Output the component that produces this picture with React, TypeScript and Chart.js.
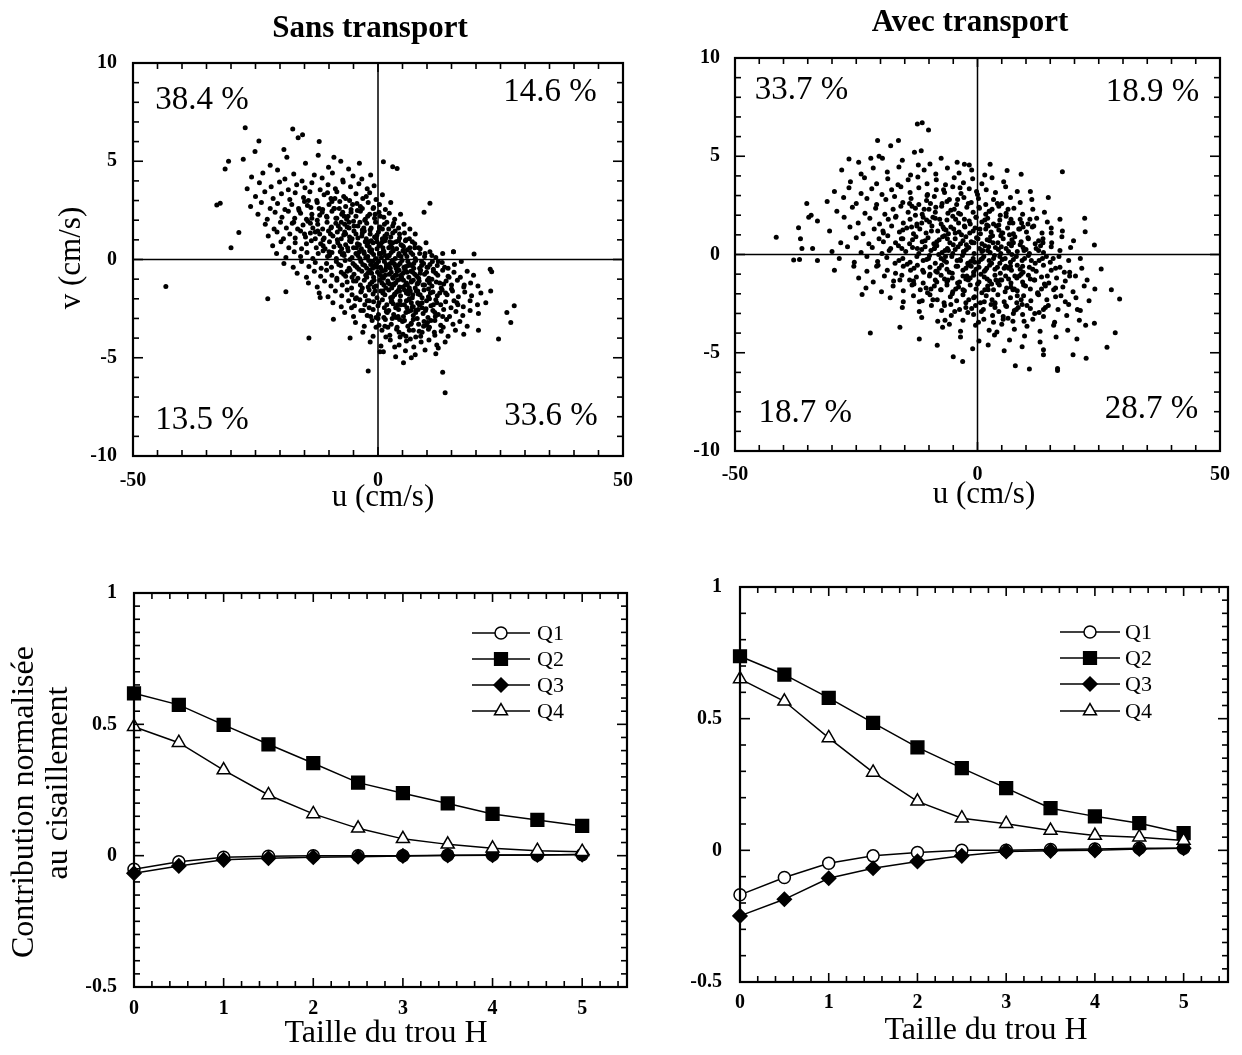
import React, { useEffect, useRef } from "react";
import { Chart, registerables } from "chart.js";

Chart.register(...registerables);

const FONT = "'Liberation Serif', 'Times New Roman', serif";

// ---------- Top scatter data: (u, v) in cm/s ----------
const sansPoints: number[][] = [
  // outliers
  [-27.1,6.7],[-17.4,6.64],[-16.3,6.2],[-15.4,6.35],[-12.0,6.0],[-24.3,6.03],[-19.2,5.6],[-25.1,5.49],
  [-30.5,5.0],[-31.2,4.6],[-32.2,2.86],[-32.9,2.77],[-30.0,0.6],[-28.4,1.38],[-43.3,-1.38],[-22.5,-2.0],
  [-18.8,-1.64],[-14.1,-4.0],[-11.8,-1.94],[-2.0,-5.67],[5.2,-5.25],[13.2,-5.74],[13.7,-6.78],[24.6,-4.05],
  [27.8,-2.35],[26.3,-2.7],[27.1,-3.2],[1.1,4.98],[3.0,4.72],[3.9,4.63],[10.6,2.86],[9.4,2.4],
  [19.6,0.28],[15.4,0.4],[22.9,-0.5],[23.2,-0.62],[23.0,-1.6],[20.5,-3.6],[12.3,-4.5],[0.4,-4.7],
  [-5.7,-4.0],[-9.1,-3.04],
  // v 4.5..5.5
  [-27.5,5.1],[-22.0,4.8],[-18.6,5.2],[-14.8,4.9],[-12.2,5.3],[-10.1,4.7],[-7.6,5.0],[-6.0,4.6],[-3.8,4.9],[-20.5,4.55],[-9.0,5.2],
  // v 4.0..4.5
  [-25.8,4.2],[-23.5,4.4],[-19.0,4.1],[-17.2,4.35],[-15.5,4.0],[-13.0,4.3],[-11.4,4.15],[-9.3,4.4],[-7.2,4.05],[-5.1,4.25],[-3.3,4.1],[-1.5,4.3],
  // v 3.5..4.0
  [-26.7,3.6],[-24.2,3.9],[-21.8,3.7],[-20.1,3.95],[-18.3,3.55],[-16.6,3.8],[-14.9,3.65],[-13.5,3.9],[-11.8,3.55],[-10.2,3.8],[-8.7,3.6],[-7.1,3.95],[-5.6,3.7],[-3.9,3.85],[-2.2,3.6],[-0.8,3.75],
  // v 3.0..3.5
  [-25.0,3.2],[-23.1,3.45],[-21.4,3.1],[-19.7,3.35],[-18.0,3.05],[-16.9,3.4],[-15.2,3.15],[-13.9,3.45],[-12.5,3.0],[-11.0,3.3],[-9.6,3.1],[-8.4,3.45],[-7.0,3.2],[-5.8,3.0],[-4.5,3.35],[-3.1,3.1],[-1.7,3.4],[-0.4,3.05],[0.9,3.3],[-10.3,3.4],
  // v 2.5..3.0
  [-26.0,2.7],[-23.8,2.9],[-22.0,2.6],[-20.5,2.85],[-19.0,2.55],[-17.6,2.8],[-16.2,2.6],[-15.0,2.95],[-13.7,2.65],[-12.4,2.9],[-11.3,2.55],[-10.0,2.8],[-8.9,2.6],[-7.8,2.95],[-6.6,2.7],[-5.5,2.55],[-4.3,2.85],[-3.2,2.6],[-2.0,2.9],[-0.9,2.65],[0.3,2.8],[1.5,2.55],[-9.4,2.95],[-14.4,2.75],[2.6,2.9],
  // v 2.0..2.5
  [-24.5,2.3],[-22.6,2.05],[-21.0,2.4],[-19.6,2.15],[-18.3,2.45],[-17.0,2.1],[-15.8,2.35],[-14.6,2.05],[-13.5,2.3],[-12.4,2.0],[-11.4,2.4],[-10.4,2.15],[-9.4,2.45],[-8.4,2.1],[-7.4,2.3],[-6.4,2.05],[-5.5,2.4],[-4.5,2.2],[-3.6,2.45],[-2.6,2.05],[-1.7,2.3],[-0.7,2.1],[0.2,2.4],[1.2,2.15],[2.3,2.35],[3.4,2.05],[4.6,2.3],[-11.9,2.25],[-6.9,2.2],[-2.1,2.2],
  // v 1.5..2.0
  [-23.0,1.8],[-21.2,1.55],[-19.9,1.9],[-18.7,1.6],[-17.5,1.85],[-16.4,1.55],[-15.3,1.75],[-14.3,1.95],[-13.3,1.6],[-12.3,1.8],[-11.3,1.55],[-10.4,1.9],[-9.5,1.65],[-8.6,1.85],[-7.7,1.55],[-6.8,1.8],[-5.9,1.6],[-5.0,1.95],[-4.1,1.7],[-3.2,1.5],[-2.3,1.85],[-1.4,1.6],[-0.5,1.9],[0.4,1.65],[1.3,1.8],[2.2,1.55],[3.2,1.85],[4.2,1.6],[5.3,1.8],[6.5,1.55],[-8.1,1.7],[-3.7,1.9],[0.9,1.55],[-13.8,1.85],[-6.3,1.65],
  // v 1.0..1.5
  [-22.4,1.2],[-20.6,1.4],[-19.3,1.05],[-18.0,1.3],[-16.9,1.1],[-15.8,1.45],[-14.8,1.15],[-13.8,1.35],[-12.8,1.05],[-11.9,1.3],[-11.0,1.1],[-10.1,1.45],[-9.2,1.2],[-8.3,1.4],[-7.5,1.05],[-6.6,1.3],[-5.8,1.15],[-4.9,1.45],[-4.1,1.1],[-3.2,1.35],[-2.4,1.05],[-1.6,1.3],[-0.7,1.15],[0.1,1.4],[0.9,1.05],[1.8,1.3],[2.6,1.15],[3.5,1.45],[4.4,1.1],[5.4,1.35],[6.4,1.05],[7.6,1.3],[-7.0,1.25],[-2.8,1.45],[1.4,1.2],[-12.3,1.45],[-5.3,1.05],[-0.2,1.25],[3.0,1.35],[-9.7,1.3],
  // v 0.5..1.0
  [-21.5,0.7],[-19.8,0.9],[-18.2,0.6],[-16.9,0.85],[-15.6,0.55],[-14.6,0.8],[-13.6,0.95],[-12.6,0.6],[-11.7,0.8],[-10.8,0.55],[-9.9,0.9],[-9.0,0.65],[-8.2,0.85],[-7.4,0.55],[-6.6,0.75],[-5.8,0.95],[-5.0,0.6],[-4.2,0.8],[-3.4,0.55],[-2.6,0.9],[-1.8,0.65],[-1.0,0.85],[-0.2,0.55],[0.6,0.8],[1.4,0.95],[2.2,0.6],[3.0,0.85],[3.8,0.55],[4.7,0.75],[5.6,0.95],[6.5,0.6],[7.5,0.8],[8.6,0.55],[9.8,0.85],[-7.8,0.7],[-3.8,0.75],[0.2,0.7],[4.2,0.95],[-11.2,0.7],[-1.4,0.95],[2.6,0.7],[-6.2,0.6],[1.0,0.6],[-2.2,0.75],[5.2,0.65],
  // v 0.0..0.5
  [-20.7,0.3],[-18.8,0.1],[-17.1,0.4],[-15.8,0.15],[-14.5,0.35],[-13.3,0.05],[-12.2,0.3],[-11.2,0.45],[-10.3,0.15],[-9.4,0.35],[-8.5,0.05],[-7.7,0.4],[-6.9,0.2],[-6.1,0.45],[-5.3,0.1],[-4.5,0.3],[-3.7,0.05],[-2.9,0.4],[-2.1,0.15],[-1.3,0.35],[-0.5,0.05],[0.3,0.3],[1.1,0.45],[1.9,0.1],[2.7,0.35],[3.5,0.05],[4.3,0.3],[5.1,0.45],[5.9,0.15],[6.7,0.35],[7.6,0.05],[8.5,0.3],[9.5,0.15],[10.6,0.4],[11.8,0.1],[13.2,0.3],[15.4,0.4],[-4.1,0.2],[-0.9,0.25],[2.3,0.2],[4.7,0.15],[7.1,0.25],[-7.3,0.25],[-1.7,0.45],[0.7,0.1],[3.1,0.45],[5.5,0.3],[-9.9,0.2],[-2.5,0.1],[1.5,0.2],
  // v -0.5..0.0
  [-19.2,-0.2],[-17.3,-0.4],[-15.6,-0.1],[-14.1,-0.35],[-12.8,-0.15],[-11.6,-0.45],[-10.5,-0.2],[-9.5,-0.4],[-8.5,-0.1],[-7.6,-0.3],[-6.7,-0.05],[-5.9,-0.45],[-5.1,-0.2],[-4.3,-0.4],[-3.5,-0.1],[-2.7,-0.3],[-1.9,-0.05],[-1.1,-0.45],[-0.3,-0.2],[0.5,-0.4],[1.3,-0.1],[2.1,-0.3],[2.9,-0.05],[3.7,-0.45],[4.5,-0.2],[5.3,-0.4],[6.1,-0.1],[6.9,-0.3],[7.7,-0.05],[8.5,-0.45],[9.3,-0.2],[10.2,-0.4],[11.1,-0.1],[12.1,-0.3],[13.1,-0.15],[14.3,-0.45],[15.6,-0.25],[17.0,-0.1],[-3.1,-0.25],[-0.7,-0.3],[1.7,-0.25],[4.1,-0.3],[6.5,-0.25],[8.9,-0.3],[0.1,-0.1],[2.5,-0.45],[4.9,-0.05],[-1.5,-0.25],[3.3,-0.2],[5.7,-0.35],[-4.7,-0.3],[-2.3,-0.45],[7.3,-0.45],[10.6,-0.25],[-8.0,-0.25],
  // v -1.0..-0.5
  [-16.5,-0.7],[-14.6,-0.9],[-13.0,-0.6],[-11.7,-0.85],[-10.5,-0.55],[-9.4,-0.8],[-8.4,-0.95],[-7.5,-0.65],[-6.6,-0.85],[-5.7,-0.55],[-4.9,-0.75],[-4.1,-0.95],[-3.3,-0.6],[-2.5,-0.8],[-1.7,-0.55],[-0.9,-0.9],[-0.1,-0.65],[0.7,-0.85],[1.5,-0.55],[2.3,-0.75],[3.1,-0.95],[3.9,-0.6],[4.7,-0.8],[5.5,-0.55],[6.3,-0.9],[7.1,-0.65],[7.9,-0.85],[8.7,-0.55],[9.5,-0.75],[10.4,-0.95],[11.3,-0.6],[12.2,-0.8],[13.2,-0.55],[14.3,-0.85],[15.5,-0.65],[16.8,-0.9],[18.2,-0.6],[19.5,-0.8],[-2.1,-0.7],[0.3,-0.75],[2.7,-0.65],[5.1,-0.7],[7.5,-0.75],[9.9,-0.65],[-5.3,-0.9],[-1.3,-0.7],[1.1,-0.95],[3.5,-0.8],[5.9,-0.65],[8.3,-0.95],[11.8,-0.7],[-7.0,-0.75],[4.3,-0.55],[6.7,-0.6],[0.9,-0.6],
  // v -1.5..-1.0
  [-14.2,-1.2],[-12.4,-1.4],[-10.9,-1.1],[-9.6,-1.35],[-8.4,-1.05],[-7.3,-1.3],[-6.3,-1.15],[-5.4,-1.45],[-4.5,-1.1],[-3.6,-1.3],[-2.8,-1.05],[-2.0,-1.4],[-1.2,-1.15],[-0.4,-1.35],[0.4,-1.05],[1.2,-1.3],[2.0,-1.1],[2.8,-1.45],[3.6,-1.2],[4.4,-1.4],[5.2,-1.05],[6.0,-1.3],[6.8,-1.15],[7.6,-1.45],[8.4,-1.1],[9.2,-1.3],[10.1,-1.05],[11.0,-1.35],[11.9,-1.15],[12.9,-1.45],[13.9,-1.1],[15.0,-1.3],[16.2,-1.05],[17.5,-1.4],[18.9,-1.2],[20.4,-1.35],[-1.6,-1.25],[0.8,-1.2],[3.2,-1.25],[5.6,-1.3],[8.0,-1.25],[10.5,-1.2],[1.6,-1.45],[4.0,-1.05],[6.4,-1.45],[-3.2,-1.45],[-0.8,-1.05],[13.4,-1.25],[7.2,-1.05],[2.4,-1.25],
  // v -2.0..-1.5
  [-12.0,-1.7],[-10.2,-1.9],[-8.7,-1.6],[-7.4,-1.85],[-6.3,-1.55],[-5.3,-1.8],[-4.4,-1.95],[-3.5,-1.65],[-2.6,-1.85],[-1.8,-1.55],[-1.0,-1.75],[-0.2,-1.95],[0.6,-1.6],[1.4,-1.8],[2.2,-1.55],[3.0,-1.9],[3.8,-1.65],[4.6,-1.85],[5.4,-1.55],[6.2,-1.75],[7.0,-1.95],[7.8,-1.6],[8.6,-1.8],[9.4,-1.55],[10.3,-1.9],[11.2,-1.65],[12.1,-1.85],[13.1,-1.55],[14.1,-1.8],[15.2,-1.6],[16.4,-1.9],[17.7,-1.65],[19.1,-1.85],[21.0,-1.7],[1.0,-1.7],[3.4,-1.75],[5.8,-1.7],[8.2,-1.75],[10.7,-1.7],[-0.6,-1.6],[2.6,-1.95],[4.2,-1.55],[6.6,-1.6],[9.0,-1.95],[12.6,-1.7],
  // v -2.5..-2.0
  [-9.2,-2.2],[-7.5,-2.4],[-6.0,-2.1],[-4.8,-2.35],[-3.7,-2.05],[-2.7,-2.3],[-1.8,-2.45],[-0.9,-2.15],[0.0,-2.35],[0.9,-2.05],[1.8,-2.3],[2.7,-2.15],[3.6,-2.45],[4.5,-2.1],[5.4,-2.3],[6.3,-2.05],[7.2,-2.4],[8.1,-2.2],[9.0,-2.45],[9.9,-2.1],[10.8,-2.35],[11.8,-2.05],[12.8,-2.3],[13.8,-2.15],[14.9,-2.45],[16.1,-2.2],[17.4,-2.4],[18.8,-2.1],[20.3,-2.3],[22.0,-2.2],[3.1,-2.25],[5.9,-2.45],[8.6,-2.25],[11.3,-2.3],[1.3,-2.45],[-2.2,-2.1],[6.8,-2.2],[15.5,-2.1],[4.0,-2.3],[-5.4,-2.45],
  // v -3.0..-2.5
  [-6.8,-2.7],[-5.0,-2.9],[-3.5,-2.6],[-2.2,-2.85],[-1.0,-2.55],[0.1,-2.8],[1.2,-2.95],[2.2,-2.6],[3.2,-2.8],[4.2,-2.55],[5.2,-2.9],[6.2,-2.65],[7.2,-2.85],[8.2,-2.55],[9.2,-2.75],[10.2,-2.95],[11.2,-2.6],[12.3,-2.8],[13.4,-2.55],[14.6,-2.9],[15.9,-2.65],[17.3,-2.85],[18.8,-2.6],[20.5,-2.75],[3.7,-2.95],[6.7,-2.6],[9.7,-2.6],[-0.4,-2.95],[1.7,-2.65],[11.7,-2.9],[7.7,-2.7],[5.7,-2.7],
  // v -3.5..-3.0
  [-4.6,-3.2],[-2.8,-3.4],[-1.2,-3.1],[0.2,-3.35],[1.5,-3.05],[2.7,-3.3],[3.9,-3.45],[5.0,-3.15],[6.1,-3.4],[7.2,-3.05],[8.3,-3.3],[9.4,-3.15],[10.5,-3.45],[11.6,-3.1],[12.8,-3.35],[14.0,-3.05],[15.3,-3.3],[16.7,-3.15],[18.2,-3.4],[4.4,-3.05],[6.8,-3.25],[9.9,-3.35],[2.0,-3.45],[13.3,-3.45],[-0.4,-3.45],
  // v -4.0..-3.5
  [-3.1,-3.7],[-1.0,-3.9],[0.8,-3.6],[2.4,-3.85],[3.8,-3.55],[5.1,-3.8],[6.4,-3.6],[7.7,-3.95],[9.0,-3.7],[10.3,-3.55],[11.6,-3.85],[12.9,-3.65],[14.3,-3.9],[15.8,-3.6],[17.5,-3.8],[4.5,-3.95],[8.4,-3.65],[1.6,-3.95],
  // v -4.5..-4.0
  [-1.6,-4.2],[0.6,-4.4],[2.5,-4.1],[4.3,-4.35],[5.8,-4.15],[7.3,-4.45],[8.8,-4.2],[10.4,-4.1],[12.0,-4.35],[13.7,-4.2],[6.6,-4.05],[3.4,-4.45],
  // v -5.0..-4.5
  [1.1,-4.7],[3.6,-4.95],[5.6,-4.65],[7.6,-4.85],[9.6,-4.6],[11.8,-4.8],[6.8,-5.0],
];

// denser core of the "sans transport" cloud
const sansCore: number[][] = [
  [-7.5,1.9],[-6.8,1.4],[-6.1,2.2],[-5.5,0.9],[-4.9,1.7],[-4.2,2.5],[-3.8,0.4],[-3.3,1.2],[-2.7,2.0],[-2.2,0.7],[-1.6,1.5],[-1.1,-0.1],[-0.6,2.3],[-0.2,0.9],[0.3,1.6],[0.7,-0.5],[1.2,0.4],[1.6,1.1],[2.1,-1.2],[2.5,-0.2],[2.9,0.6],[3.4,-1.8],[3.8,-0.8],[4.2,0.2],[4.7,-2.3],[5.1,-1.4],[5.5,-0.5],[6.0,0.5],[6.4,-2.0],[6.8,-1.1],[7.3,-0.2],[7.7,-2.6],[8.1,-1.6],[8.6,-0.7],[9.0,-2.2],[9.5,-1.3],[10.0,-0.4],[10.5,-2.0],[11.0,-1.0],[11.6,-2.7],
  [-7.0,0.3],[-6.3,-0.6],[-5.7,0.0],[-5.0,-1.1],[-4.4,0.6],[-3.9,-0.5],[-3.4,-1.6],[-2.8,0.3],[-2.3,-0.9],[-1.8,-2.1],[-1.3,0.5],[-0.8,-1.4],[-0.3,-0.4],[0.2,-2.2],[0.6,0.3],[1.0,-1.6],[1.5,-0.8],[1.9,-2.7],[2.4,0.9],[2.8,-2.1],[3.2,-1.3],[3.7,0.9],[4.1,-2.9],[4.5,-1.0],[5.0,0.7],[5.4,-3.1],[5.8,-2.1],[6.2,-0.3],[6.7,-3.3],[7.1,-1.8],[7.5,0.6],[8.0,-3.0],[8.4,-2.3],[8.9,-0.1],[9.3,-3.4],[9.8,-2.5],[10.3,-1.5],[10.8,-3.1],[11.3,-0.5],[12.0,-2.2],[12.6,-1.2],[13.2,-2.9],[13.8,-1.7],[14.5,-0.9],
  [-9.0,2.6],[-8.3,1.0],[-9.6,1.6],[-10.5,2.2],[-8.8,3.1],[-11.2,1.0],[-10.0,0.4],[-12.0,2.6],[-12.8,1.4],[-13.5,2.1],[-14.2,3.0],[-15.0,1.3],[-16.1,2.5],[-17.2,1.9],[-7.9,2.6],[-6.6,3.1],[-5.2,2.8],[-3.6,2.7],[-2.4,3.2],[-1.0,2.6],[0.5,2.2],[1.8,1.9],[3.0,1.7],[4.4,1.3],[5.7,1.0],[7.0,0.9],[8.3,0.6],[9.6,0.3],[11.0,0.2],[12.3,-0.1],[13.6,-0.4],[15.0,-1.5],[16.3,-2.3],[17.6,-1.3],
  [-4.6,-2.0],[-3.0,-2.6],[-1.5,-2.9],[0.0,-3.0],[1.4,-3.4],[2.9,-3.0],[4.3,-3.7],[5.7,-3.9],[7.2,-3.6],[8.7,-3.9],[10.1,-3.2],[11.5,-3.7],[3.5,-0.3],[4.8,-0.9],[6.1,-1.6],[2.2,0.2],[0.9,0.9],[-0.4,1.1],[1.7,-0.4],[3.0,-0.9],[4.4,-1.6],[5.8,-1.2],[7.0,-2.4],[8.2,-1.2],[-1.9,0.9],[-2.9,1.6],[-4.5,1.3],[-5.9,1.9],[-7.2,2.4],[-8.6,2.1],
];

const avecPoints: number[][] = [
  // outliers
  [-12.4,6.64],[-11.4,6.71],[-10.1,6.34],[-20.6,5.8],[-16.3,5.8],[-17.9,5.54],[-26.5,4.86],[-22.0,4.9],
  [-19.6,4.9],[-11.6,5.28],[-41.5,0.88],[-37.9,-0.28],[-36.7,-0.25],[-35.2,2.6],[-36.9,1.36],[-36.2,0.31],
  [-34.8,1.9],[-34.3,2.0],[-22.1,-4.0],[-23.8,-2.03],[-16.0,-3.7],[-12.0,-4.3],[-8.3,-4.62],[-5.0,-5.2],
  [-3.06,-5.45],[7.8,-5.66],[10.7,-5.83],[16.5,-5.9],[16.5,-5.8],[13.6,-5.1],[19.7,-5.1],[22.4,-5.28],
  [26.7,-4.72],[28.4,-3.98],[29.3,-2.26],[27.6,-1.8],[25.5,-0.74],[24.1,0.48],[22.1,1.84],[22.2,1.16],
  [17.5,4.21],[9.0,4.08],[6.1,4.28],[2.6,4.59],[-2.7,4.59],[-1.7,4.56],[14.6,2.9],[10.9,3.2],
  [24.1,-3.5],[22.3,-3.6],
  // v 4.5..5.5
  [-24.5,4.7],[-20.3,5.0],[-15.5,4.8],[-13.0,5.2],[-9.8,4.6],[-7.5,4.9],[-4.2,4.7],[-12.2,4.55],
  // v 4.0..4.5
  [-28.0,4.3],[-24.0,4.1],[-21.5,4.4],[-18.6,4.2],[-16.2,4.45],[-13.8,4.05],[-11.0,4.3],[-8.6,4.1],[-6.2,4.4],[-3.8,4.15],[-1.2,4.3],[1.5,4.05],
  // v 3.5..4.0
  [-26.2,3.7],[-23.3,3.9],[-20.8,3.6],[-18.5,3.85],[-16.4,3.55],[-14.3,3.8],[-12.3,3.95],[-10.4,3.6],[-8.5,3.8],[-6.6,3.55],[-4.8,3.9],[-2.9,3.65],[-1.0,3.85],[0.9,3.6],[3.0,3.9],[5.4,3.7],
  // v 3.0..3.5
  [-29.5,3.2],[-26.5,3.4],[-24.0,3.1],[-21.8,3.35],[-19.7,3.05],[-17.7,3.3],[-15.8,3.45],[-13.9,3.15],[-12.1,3.4],[-10.3,3.05],[-8.5,3.3],[-6.8,3.15],[-5.1,3.45],[-3.4,3.1],[-1.7,3.35],[0.0,3.05],[1.8,3.3],[3.7,3.15],[5.8,3.45],[8.2,3.2],
  // v 2.5..3.0
  [-31.0,2.7],[-27.6,2.9],[-25.0,2.6],[-22.8,2.85],[-20.8,2.55],[-18.9,2.8],[-17.1,2.95],[-15.4,2.65],[-13.7,2.85],[-12.1,2.55],[-10.5,2.75],[-8.9,2.95],[-7.3,2.6],[-5.8,2.8],[-4.3,2.55],[-2.8,2.9],[-1.3,2.65],[0.2,2.85],[1.7,2.55],[3.3,2.8],[5.0,2.6],[6.8,2.9],[8.8,2.65],[11.2,2.8],[-9.7,2.6],
  // v 2.0..2.5
  [-29.0,2.2],[-25.8,2.4],[-23.2,2.1],[-21.0,2.35],[-19.1,2.05],[-17.4,2.3],[-15.8,2.45],[-14.3,2.15],[-12.8,2.35],[-11.4,2.05],[-10.0,2.3],[-8.7,2.15],[-7.4,2.45],[-6.1,2.1],[-4.8,2.3],[-3.5,2.05],[-2.2,2.4],[-0.9,2.15],[0.4,2.35],[1.7,2.05],[3.0,2.3],[4.4,2.45],[5.9,2.1],[7.5,2.35],[9.3,2.05],[11.4,2.3],[13.8,2.15],[-13.5,2.45],[-5.5,2.25],[2.4,2.2],
  // v 1.5..2.0
  [-33.0,1.7],[-27.5,1.9],[-24.6,1.6],[-22.2,1.85],[-20.2,1.55],[-18.4,1.8],[-16.8,1.95],[-15.3,1.6],[-13.9,1.8],[-12.5,1.55],[-11.2,1.9],[-9.9,1.65],[-8.7,1.85],[-7.5,1.55],[-6.3,1.75],[-5.1,1.95],[-3.9,1.6],[-2.7,1.8],[-1.5,1.55],[-0.3,1.9],[0.9,1.65],[2.1,1.85],[3.3,1.55],[4.6,1.75],[5.9,1.95],[7.3,1.6],[8.8,1.8],[10.4,1.55],[12.2,1.85],[14.4,1.65],[17.0,1.8],[-10.5,1.75],[-4.5,1.8],[1.5,1.75],[6.6,1.6],
  // v 1.0..1.5
  [-30.5,1.2],[-26.3,1.4],[-23.6,1.05],[-21.3,1.3],[-19.4,1.1],[-17.7,1.45],[-16.1,1.15],[-14.6,1.35],[-13.2,1.05],[-11.9,1.3],[-10.6,1.1],[-9.4,1.45],[-8.2,1.2],[-7.1,1.4],[-6.0,1.05],[-4.9,1.3],[-3.8,1.15],[-2.7,1.45],[-1.6,1.1],[-0.5,1.35],[0.6,1.05],[1.7,1.3],[2.8,1.15],[3.9,1.45],[5.0,1.1],[6.2,1.35],[7.4,1.05],[8.7,1.3],[10.1,1.15],[11.6,1.45],[13.3,1.1],[15.2,1.35],[17.5,1.2],[-12.5,1.45],[-6.5,1.25],[-0.9,1.2],[4.4,1.25],[9.4,1.4],[-15.4,1.25],[2.2,1.45],
  // v 0.5..1.0
  [-36.5,0.8],[-28.2,0.6],[-25.0,0.85],[-22.4,0.55],[-20.3,0.8],[-18.5,0.95],[-16.9,0.6],[-15.4,0.8],[-14.0,0.55],[-12.7,0.9],[-11.4,0.65],[-10.2,0.85],[-9.0,0.55],[-7.9,0.75],[-6.8,0.95],[-5.7,0.6],[-4.6,0.8],[-3.5,0.55],[-2.4,0.9],[-1.3,0.65],[-0.2,0.85],[0.9,0.55],[2.0,0.75],[3.1,0.95],[4.2,0.6],[5.3,0.8],[6.5,0.55],[7.7,0.9],[9.0,0.65],[10.4,0.85],[11.9,0.55],[13.5,0.8],[15.3,0.6],[17.4,0.9],[19.8,0.7],[-8.4,0.65],[-3.0,0.7],[2.5,0.7],[7.1,0.75],[-13.4,0.75],[-0.7,0.6],[4.8,0.95],[12.6,0.7],[-19.4,0.65],[-6.2,0.8],
  // v 0.0..0.5
  [-34.0,0.3],[-30.0,0.15],[-26.8,0.4],[-24.0,0.1],[-21.7,0.35],[-19.7,0.05],[-17.9,0.3],[-16.3,0.45],[-14.8,0.15],[-13.4,0.35],[-12.1,0.05],[-10.8,0.4],[-9.6,0.2],[-8.4,0.45],[-7.3,0.1],[-6.2,0.3],[-5.1,0.05],[-4.0,0.4],[-2.9,0.15],[-1.8,0.35],[-0.7,0.05],[0.4,0.3],[1.5,0.45],[2.6,0.1],[3.7,0.35],[4.8,0.05],[5.9,0.3],[7.0,0.45],[8.2,0.15],[9.4,0.35],[10.7,0.05],[12.1,0.3],[13.6,0.1],[15.2,0.4],[17.0,0.2],[19.2,0.35],[-2.3,0.25],[2.1,0.2],[6.4,0.15],[-11.5,0.25],[-6.7,0.2],[10.0,0.25],[-15.6,0.3],[0.9,0.15],[4.3,0.25],[-4.6,0.25],[13.0,0.45],[-8.9,0.3],
  // v -0.5..0.0
  [-33.0,-0.3],[-28.5,-0.2],[-25.4,-0.4],[-22.8,-0.1],[-20.6,-0.35],[-18.7,-0.15],[-17.0,-0.45],[-15.4,-0.2],[-13.9,-0.4],[-12.5,-0.1],[-11.2,-0.3],[-9.9,-0.05],[-8.7,-0.45],[-7.5,-0.2],[-6.4,-0.4],[-5.3,-0.1],[-4.2,-0.3],[-3.1,-0.05],[-2.0,-0.45],[-0.9,-0.2],[0.2,-0.4],[1.3,-0.1],[2.4,-0.3],[3.5,-0.05],[4.6,-0.45],[5.7,-0.2],[6.8,-0.4],[8.0,-0.1],[9.2,-0.3],[10.5,-0.05],[11.9,-0.45],[13.4,-0.2],[15.0,-0.4],[16.8,-0.1],[18.8,-0.3],[21.2,-0.2],[-3.6,-0.25],[0.7,-0.25],[5.1,-0.25],[9.7,-0.2],[-10.5,-0.25],[-6.9,-0.3],[2.9,-0.45],[7.4,-0.25],[-1.4,-0.35],[12.7,-0.3],[-16.2,-0.3],[14.2,-0.1],
  // v -1.0..-0.5
  [-29.5,-0.8],[-25.5,-0.6],[-22.8,-0.85],[-20.5,-0.55],[-18.6,-0.8],[-16.9,-0.95],[-15.3,-0.6],[-13.8,-0.8],[-12.4,-0.55],[-11.1,-0.9],[-9.8,-0.65],[-8.6,-0.85],[-7.4,-0.55],[-6.3,-0.75],[-5.2,-0.95],[-4.1,-0.6],[-3.0,-0.8],[-1.9,-0.55],[-0.8,-0.9],[0.3,-0.65],[1.4,-0.85],[2.5,-0.55],[3.6,-0.75],[4.7,-0.95],[5.8,-0.6],[7.0,-0.8],[8.2,-0.55],[9.4,-0.9],[10.7,-0.65],[12.1,-0.85],[13.6,-0.55],[15.2,-0.8],[17.0,-0.65],[19.0,-0.9],[21.5,-0.7],[-2.4,-0.7],[1.9,-0.7],[6.4,-0.7],[11.4,-0.75],[-7.9,-0.7],[-13.1,-0.7],[4.1,-0.65],[8.8,-0.75],[-0.3,-0.75],[16.1,-0.7],
  // v -1.5..-1.0
  [-24.5,-1.2],[-21.5,-1.4],[-19.2,-1.1],[-17.3,-1.35],[-15.6,-1.05],[-14.0,-1.3],[-12.6,-1.15],[-11.2,-1.45],[-9.9,-1.1],[-8.7,-1.3],[-7.5,-1.05],[-6.3,-1.4],[-5.2,-1.2],[-4.1,-1.45],[-3.0,-1.1],[-1.9,-1.3],[-0.8,-1.05],[0.3,-1.4],[1.4,-1.15],[2.5,-1.35],[3.6,-1.05],[4.7,-1.3],[5.8,-1.1],[6.9,-1.45],[8.1,-1.2],[9.3,-1.4],[10.5,-1.05],[11.8,-1.3],[13.2,-1.15],[14.7,-1.45],[16.3,-1.2],[18.1,-1.35],[20.2,-1.1],[22.6,-1.3],[-2.4,-1.25],[2.0,-1.25],[6.4,-1.25],[10.9,-1.25],[-6.8,-1.25],[-13.2,-1.35],[4.2,-1.45],[8.6,-1.1],
  // v -2.0..-1.5
  [-23.0,-1.7],[-19.8,-1.9],[-17.4,-1.6],[-15.3,-1.85],[-13.5,-1.55],[-11.8,-1.8],[-10.3,-1.95],[-8.9,-1.6],[-7.6,-1.8],[-6.3,-1.55],[-5.1,-1.9],[-3.9,-1.65],[-2.7,-1.85],[-1.5,-1.55],[-0.3,-1.75],[0.9,-1.95],[2.1,-1.6],[3.3,-1.8],[4.5,-1.55],[5.7,-1.9],[6.9,-1.65],[8.2,-1.85],[9.5,-1.55],[10.9,-1.75],[12.4,-1.95],[14.0,-1.6],[15.7,-1.8],[17.6,-1.65],[19.7,-1.9],[22.0,-1.6],[24.2,-1.75],[-4.5,-1.75],[1.5,-1.8],[7.6,-1.75],[13.2,-1.75],[-9.6,-1.75],
  // v -2.5..-2.0
  [-18.0,-2.2],[-15.3,-2.4],[-13.2,-2.1],[-11.4,-2.35],[-9.8,-2.05],[-8.3,-2.3],[-6.9,-2.45],[-5.6,-2.15],[-4.3,-2.35],[-3.0,-2.05],[-1.8,-2.3],[-0.6,-2.15],[0.6,-2.45],[1.8,-2.1],[3.0,-2.3],[4.2,-2.05],[5.5,-2.4],[6.8,-2.2],[8.1,-2.45],[9.5,-2.1],[11.0,-2.35],[12.6,-2.05],[14.3,-2.3],[16.1,-2.15],[18.1,-2.4],[20.3,-2.2],[23.0,-2.35],[-2.4,-2.45],[3.6,-2.45],[9.0,-2.3],
  // v -3.0..-2.5
  [-15.5,-2.7],[-12.0,-2.9],[-9.5,-2.6],[-7.4,-2.85],[-5.5,-2.55],[-3.7,-2.8],[-2.0,-2.95],[-0.4,-2.6],[1.2,-2.8],[2.8,-2.55],[4.4,-2.9],[6.0,-2.65],[7.6,-2.85],[9.2,-2.55],[10.9,-2.75],[12.7,-2.95],[14.6,-2.6],[16.6,-2.8],[18.8,-2.55],[21.2,-2.85],[3.6,-2.7],[8.4,-2.7],[-1.2,-2.75],[13.6,-2.8],
  // v -3.5..-3.0
  [-11.5,-3.2],[-8.2,-3.4],[-5.4,-3.1],[-3.0,-3.35],[-0.8,-3.05],[1.3,-3.3],[3.3,-3.45],[5.3,-3.15],[7.3,-3.4],[9.3,-3.05],[11.4,-3.3],[13.6,-3.15],[15.9,-3.45],[18.4,-3.1],[21.0,-3.35],[6.3,-3.25],[0.2,-3.45],[-6.7,-3.35],
  // v -4.0..-3.5
  [-7.2,-3.7],[-3.5,-3.9],[-0.4,-3.6],[2.4,-3.85],[5.0,-3.55],[7.6,-3.8],[10.2,-3.65],[12.9,-3.9],[15.7,-3.6],[18.6,-3.85],[4.0,-3.95],[-5.8,-3.55],
  // v -4.5..-4.0
  [-3.5,-4.2],[0.3,-4.4],[3.5,-4.1],[6.6,-4.35],[9.7,-4.15],[12.9,-4.45],[16.2,-4.2],[20.5,-4.3],
  // v -5.0..-4.5
  [-1.0,-4.8],[2.2,-4.6],[5.5,-4.9],[9.2,-4.7],[13.6,-4.85],
];

// denser core of the "avec transport" cloud
const avecCore: number[][] = [
  [-11.5,1.6],[-10.8,0.7],[-10.1,-0.2],[-9.5,1.2],[-8.9,0.3],[-8.3,-0.9],[-7.8,1.8],[-7.2,0.9],[-6.6,-0.1],[-6.1,-1.3],[-5.5,1.4],[-5.0,0.5],[-4.4,-0.6],[-3.9,2.1],[-3.3,1.0],[-2.8,0.1],[-2.2,-1.1],[-1.7,1.7],[-1.1,0.6],[-0.6,-0.4],[0.0,-1.5],[0.5,1.3],[1.1,0.2],[1.6,-0.8],[2.2,-1.8],[2.7,0.9],[3.3,-0.2],[3.8,-1.3],[4.4,1.5],[4.9,0.4],[5.5,-0.7],[6.0,-1.7],[6.6,1.0],[7.1,0.0],[7.7,-1.1],[8.2,-2.1],[8.8,0.5],[9.3,-0.6],[9.9,-1.6],[10.5,0.8],[11.1,-0.3],[11.7,-1.3],
  [-12.4,0.3],[-11.0,2.3],[-9.8,-1.0],[-8.6,2.4],[-7.5,-1.8],[-6.3,2.7],[-5.2,-2.0],[-4.1,2.8],[-3.0,-1.8],[-1.9,2.6],[-0.8,-2.2],[0.3,2.4],[1.4,-2.4],[2.5,2.2],[3.6,-2.5],[4.7,2.0],[5.8,-2.6],[6.9,1.8],[8.0,-2.8],[9.1,1.6],[10.2,-2.6],[11.3,1.4],[12.4,-2.0],[13.5,0.6],[14.4,-1.1],[15.6,-0.2],
  [-13.6,1.4],[-14.5,-0.5],[-15.7,0.8],[-16.9,1.9],[-13.1,-1.5],[-10.4,3.0],[-7.0,3.3],[-3.6,3.4],[-0.2,3.2],[-12.0,-2.4],[-9.2,-2.3],[-6.8,-2.6],[-4.7,-2.9],[-2.4,-2.7],[0.8,-2.9],[3.1,-3.1],[5.3,-3.3],[7.4,-3.0],[9.6,-3.4],[11.8,-3.0],[14.0,-2.7],[16.1,-1.7],[17.9,-0.9],
  [-9.2,1.9],[-6.9,1.3],[-4.6,1.1],[-2.3,0.5],[0.1,0.8],[2.3,0.4],[4.6,-0.1],[6.8,-0.6],[9.0,-1.0],[-8.0,0.0],[-5.8,-0.9],[-3.5,-0.3],[-1.3,-0.6],[1.0,-0.2],[3.2,0.6],[5.2,1.1],[7.4,0.6],[9.6,0.2],[-10.6,-1.7],[-8.4,-1.4],[-6.0,0.2],[-3.7,-1.4],[-1.5,-1.2],[0.7,-1.0],[2.9,-1.5],[5.0,-1.3],[7.3,-1.8],
  [-2.6,1.4],[-0.3,1.9],[1.9,1.5],[4.1,2.6],[6.3,2.3],[8.5,1.3],[10.8,1.8],[-12.8,2.0],[-14.0,2.6],[-11.3,-0.8],[12.6,0.2],[13.8,-1.5],[-16.0,-1.3],[-18.2,0.2],[-19.5,1.2],[-20.8,-0.6],[15.2,1.1],[17.2,-2.1],[19.0,-1.1],[20.6,-2.8],
];

const uTicks = [-50, 0, 50];
const vTicks = [-10, -5, 0, 5, 10];
const sansQuadrants = ["38.4 %", "14.6 %", "13.5 %", "33.6 %"];
const avecQuadrants = ["33.7 %", "18.9 %", "18.7 %", "28.7 %"];

// ---------- Bottom line data ----------
const holeSizes = [0, 0.5, 1, 1.5, 2, 2.5, 3, 3.5, 4, 4.5, 5];
const sansQ1 = [-0.052, -0.023, -0.006, -0.002, 0, 0, 0, 0.002, 0.003, 0.003, 0.004];
const sansQ2 = [0.618, 0.574, 0.498, 0.424, 0.352, 0.278, 0.238, 0.199, 0.159, 0.136, 0.113];
const sansQ3 = [-0.067, -0.039, -0.016, -0.01, -0.006, -0.004, -0.001, 0.001, 0.002, 0.003, 0.004];
const sansQ4 = [0.491, 0.43, 0.326, 0.231, 0.159, 0.104, 0.064, 0.043, 0.028, 0.019, 0.015];
const avecQ1 = [-0.169, -0.103, -0.049, -0.021, -0.008, 0, 0, 0.003, 0.005, 0.008, 0.008];
const avecQ2 = [0.737, 0.667, 0.579, 0.484, 0.391, 0.312, 0.236, 0.16, 0.129, 0.103, 0.065];
const avecQ3 = [-0.249, -0.186, -0.106, -0.068, -0.042, -0.021, -0.004, -0.002, 0, 0.005, 0.008];
const avecQ4 = [0.651, 0.566, 0.427, 0.296, 0.186, 0.122, 0.101, 0.075, 0.056, 0.05, 0.037];
const hTicks = [0, 1, 2, 3, 4, 5];
const cTicks = [-0.5, 0, 0.5, 1];
const seriesNames = ["Q1", "Q2", "Q3", "Q4"];

type Marker = { style: string; radius: number; fill: string };
const markers: Marker[] = [
  { style: "circle", radius: 6, fill: "#fff" },
  { style: "rect", radius: 9, fill: "#000" },
  { style: "rectRot", radius: 7, fill: "#000" },
  { style: "triangle", radius: 7.5, fill: "#fff" },
];

type TextItem = { text: string; x: number; y: number; size: number; bold?: boolean; rot?: boolean; align?: CanvasTextAlign; base?: CanvasTextBaseline };

type Spec = {
  left: number; top: number; width: number; height: number;
  area: { l: number; t: number; r: number; b: number };
  xMin: number; xMax: number; yMin: number; yMax: number;
  xTicks: number[]; yTicks: number[];
  xMinor: number; yMinorL: number; yMinorR: number; xMinorTop: number;
  xPad: number; yPad: number;
  cross: boolean;
  texts: TextItem[];
  quad?: { labels: string[]; pos: number[][] };
  legend?: { x1: number; x2: number; xm: number; xt: number; ys: number[] };
  datasets: any[];
};

function drawMarker(ctx: CanvasRenderingContext2D, m: Marker, x: number, y: number) {
  ctx.save();
  ctx.fillStyle = m.fill;
  ctx.strokeStyle = "#000";
  ctx.lineWidth = 1.5;
  ctx.beginPath();
  const r = m.radius;
  if (m.style === "circle") {
    ctx.arc(x, y, r, 0, Math.PI * 2);
  } else if (m.style === "rect") {
    const s = r / Math.SQRT2;
    ctx.rect(x - s, y - s, 2 * s, 2 * s);
  } else if (m.style === "rectRot") {
    ctx.moveTo(x, y - r); ctx.lineTo(x + r, y); ctx.lineTo(x, y + r); ctx.lineTo(x - r, y); ctx.closePath();
  } else {
    const h = r * 1.5, w = r * Math.sqrt(3) / 2;
    ctx.moveTo(x, y - r); ctx.lineTo(x + w, y + h - r); ctx.lineTo(x - w, y + h - r); ctx.closePath();
  }
  ctx.fill();
  ctx.stroke();
  ctx.restore();
}

function steps(min: number, max: number, step: number): number[] {
  const n = Math.floor((max - min) / step + 1e-6);
  const out: number[] = [];
  for (let i = 0; i <= n; i++) out.push(min + i * step);
  return out;
}

function decorPlugin(spec: Spec) {
  return {
    id: "decor",
    beforeDatasetsDraw(chart: any) {
      if (!spec.cross) return;
      const { ctx, chartArea: a, scales } = chart;
      const x0 = scales.x.getPixelForValue(0);
      const y0 = scales.y.getPixelForValue(0);
      ctx.save();
      ctx.strokeStyle = "#000";
      ctx.lineWidth = 1.5;
      ctx.beginPath();
      ctx.moveTo(x0, a.top); ctx.lineTo(x0, a.bottom);
      ctx.moveTo(a.left, y0); ctx.lineTo(a.right, y0);
      ctx.stroke();
      ctx.restore();
    },
    afterDatasetsDraw(chart: any) {
      const { ctx, chartArea: a, scales } = chart;
      const xs = scales.x, ys = scales.y;
      ctx.save();
      ctx.strokeStyle = "#000";
      // frame
      ctx.lineWidth = 2.2;
      ctx.strokeRect(a.left, a.top, a.right - a.left, a.bottom - a.top);
      // inward ticks on the four sides
      const isMajor = (v: number, arr: number[]) => arr.some((t) => Math.abs(t - v) < 1e-6);
      const seg = (x1: number, y1: number, x2: number, y2: number) => {
        ctx.beginPath();
        ctx.moveTo(x1, y1);
        ctx.lineTo(x2, y2);
        ctx.stroke();
      };
      ctx.lineWidth = 1.6;
      steps(spec.xMin, spec.xMax, spec.xMinor).forEach((v) => {
        const px = xs.getPixelForValue(v);
        const len = isMajor(v, spec.xTicks) ? 9 : 6;
        seg(px, a.bottom, px, a.bottom - len);
      });
      steps(spec.xMin, spec.xMax, spec.xMinorTop).forEach((v) => {
        const px = xs.getPixelForValue(v);
        const len = isMajor(v, spec.xTicks) ? 9 : 6;
        seg(px, a.top, px, a.top + len);
      });
      steps(spec.yMin, spec.yMax, spec.yMinorL).forEach((v) => {
        const py = ys.getPixelForValue(v);
        const len = isMajor(v, spec.yTicks) ? 10 : 6;
        seg(a.left, py, a.left + len, py);
      });
      steps(spec.yMin, spec.yMax, spec.yMinorR).forEach((v) => {
        const py = ys.getPixelForValue(v);
        const len = isMajor(v, spec.yTicks) ? 10 : 6;
        seg(a.right, py, a.right - len, py);
      });

      // quadrant labels
      ctx.fillStyle = "#000";
      if (spec.quad) {
        ctx.font = `33px ${FONT}`;
        ctx.textAlign = "center";
        ctx.textBaseline = "middle";
        spec.quad.labels.forEach((t, i) => {
          const [u, v] = spec.quad!.pos[i];
          ctx.fillText(t, xs.getPixelForValue(u), ys.getPixelForValue(v));
        });
      }
      // legend
      if (spec.legend) {
        const lg = spec.legend;
        seriesNames.forEach((name, i) => {
          const y = lg.ys[i];
          ctx.lineWidth = 1.5;
          seg(lg.x1, y, lg.x2, y);
          drawMarker(ctx, markers[i], lg.xm, y);
          ctx.fillStyle = "#000";
          ctx.font = `22px ${FONT}`;
          ctx.textAlign = "left";
          ctx.textBaseline = "middle";
          ctx.fillText(name, lg.xt, y + 1);
        });
      }
      // free texts
      spec.texts.forEach((t) => {
        ctx.save();
        ctx.fillStyle = "#000";
        ctx.font = `${t.bold ? "bold " : ""}${t.size}px ${FONT}`;
        ctx.textAlign = t.align || "center";
        ctx.textBaseline = t.base || "middle";
        ctx.translate(t.x, t.y);
        if (t.rot) ctx.rotate(-Math.PI / 2);
        ctx.fillText(t.text, 0, 0);
        ctx.restore();
      });
      ctx.restore();
    },
  };
}

function buildConfig(spec: Spec): any {
  const tickFont = { family: FONT, size: 20, weight: "bold" as const };
  return {
    type: "scatter",
    data: { datasets: spec.datasets },
    options: {
      responsive: false,
      maintainAspectRatio: false,
      animation: false,
      devicePixelRatio: 1,
      layout: {
        padding: {
          left: 0,
          top: spec.area.t,
          right: spec.width - spec.area.r,
          bottom: 0,
        },
      },
      plugins: { legend: { display: false }, tooltip: { enabled: false }, title: { display: false } },
      scales: {
        x: {
          type: "linear",
          position: "bottom",
          min: spec.xMin,
          max: spec.xMax,
          grid: { display: false, drawTicks: false },
          border: { display: false },
          afterBuildTicks: (s: any) => { s.ticks = spec.xTicks.map((v) => ({ value: v })); },
          afterFit: (s: any) => { s.height = spec.height - spec.area.b; },
          ticks: {
            autoSkip: false, maxRotation: 0, minRotation: 0, padding: spec.xPad, color: "#000", font: tickFont,
            callback: (v: any) => String(v),
          },
        },
        y: {
          type: "linear",
          position: "left",
          min: spec.yMin,
          max: spec.yMax,
          grid: { display: false, drawTicks: false },
          border: { display: false },
          afterBuildTicks: (s: any) => { s.ticks = spec.yTicks.map((v) => ({ value: v })); },
          afterFit: (s: any) => { s.width = spec.area.l; },
          ticks: {
            autoSkip: false, padding: spec.yPad, color: "#000", font: tickFont,
            callback: (v: any) => String(v),
          },
        },
      },
    },
    plugins: [decorPlugin(spec)],
  };
}

function scatterDataset(points: number[][]) {
  return {
    data: points.map(([u, v]) => ({ x: u, y: v })),
    pointRadius: 2.5,
    pointBackgroundColor: "#000",
    pointBorderWidth: 0,
    showLine: false,
  };
}

function lineDatasets(series: number[][]) {
  return series.map((vals, i) => ({
    label: seriesNames[i],
    data: holeSizes.map((h, j) => ({ x: h, y: vals[j] })),
    showLine: true,
    borderColor: "#000",
    borderWidth: 1.5,
    tension: 0,
    pointStyle: markers[i].style,
    pointRadius: markers[i].radius,
    pointBackgroundColor: markers[i].fill,
    pointBorderColor: "#000",
    pointBorderWidth: 1.5,
    clip: false,
    order: 4 - i,
  }));
}

const specs: Spec[] = [
  {
    left: 0, top: 0, width: 660, height: 530,
    area: { l: 133, t: 63, r: 623, b: 456 },
    xMin: -50, xMax: 50, yMin: -10, yMax: 10,
    xTicks: uTicks, yTicks: vTicks,
    xMinor: 5, xMinorTop: 5, yMinorL: 1, yMinorR: 1,
    xPad: 13, yPad: 16, cross: true,
    texts: [
      { text: "Sans transport", x: 370, y: 29, size: 31, bold: true },
      { text: "u (cm/s)", x: 383, y: 498, size: 31 },
      { text: "v (cm/s)", x: 72, y: 258, size: 31, rot: true },
    ],
    quad: { labels: sansQuadrants, pos: [[-35.9, 8.1], [35.1, 8.5], [-35.9, -8.17], [35.3, -8.0]] },
    datasets: [scatterDataset([...sansPoints, ...sansCore])],
  },
  {
    left: 660, top: 0, width: 582, height: 530,
    area: { l: 75, t: 58, r: 565, b: 451 },
    xMin: -50, xMax: 50, yMin: -10, yMax: 10,
    xTicks: uTicks, yTicks: vTicks,
    xMinor: 5, xMinorTop: 5, yMinorL: 1, yMinorR: 1,
    xPad: 12, yPad: 15, cross: true,
    texts: [
      { text: "Avec transport", x: 310, y: 23, size: 31, bold: true },
      { text: "u (cm/s)", x: 324, y: 495, size: 31 },
    ],
    quad: { labels: avecQuadrants, pos: [[-36.3, 8.37], [36.1, 8.27], [-35.5, -8.07], [35.9, -7.86]] },
    datasets: [scatterDataset([...avecPoints, ...avecCore])],
  },
  {
    left: 0, top: 530, width: 660, height: 525,
    area: { l: 134, t: 63, r: 627, b: 457 },
    xMin: 0, xMax: 5.5, yMin: -0.5, yMax: 1,
    xTicks: hTicks, yTicks: cTicks,
    xMinor: 0.2, xMinorTop: 0.2, yMinorL: 0.05, yMinorR: 0.05,
    xPad: 10, yPad: 17, cross: false,
    texts: [
      { text: "Taille du trou H", x: 386, y: 504, size: 32 },
      { text: "Contribution normalisée", x: 33, y: 272, size: 32, rot: true, base: "alphabetic" },
      { text: "au cisaillement", x: 67, y: 253, size: 32, rot: true, base: "alphabetic" },
    ],
    legend: { x1: 472, x2: 530, xm: 501, xt: 537, ys: [103, 129, 155, 181] },
    datasets: lineDatasets([sansQ1, sansQ2, sansQ3, sansQ4]),
  },
  {
    left: 660, top: 530, width: 582, height: 525,
    area: { l: 80, t: 57, r: 568, b: 452 },
    xMin: 0, xMax: 5.5, yMin: -0.5, yMax: 1,
    xTicks: hTicks, yTicks: cTicks,
    xMinor: 0.2, xMinorTop: 0.2, yMinorL: 0.1, yMinorR: 0.05,
    xPad: 9, yPad: 18, cross: false,
    texts: [
      { text: "Taille du trou H", x: 326, y: 501, size: 32 },
    ],
    legend: { x1: 400, x2: 460, xm: 430, xt: 465, ys: [102, 128, 154, 181] },
    datasets: lineDatasets([avecQ1, avecQ2, avecQ3, avecQ4]),
  },
];

function Panel({ spec }: { spec: Spec }) {
  const ref = useRef<HTMLCanvasElement | null>(null);
  useEffect(() => {
    if (!ref.current) return;
    const chart = new Chart(ref.current, buildConfig(spec));
    return () => chart.destroy();
  }, [spec]);
  return (
    <canvas
      ref={ref}
      width={spec.width}
      height={spec.height}
      style={{ position: "absolute", left: spec.left, top: spec.top, width: spec.width, height: spec.height }}
    />
  );
}

export default function App() {
  return (
    <div style={{ position: "fixed", left: 0, top: 0, width: 1242, height: 1055, background: "#fff", overflow: "hidden" }}>
      {specs.map((s, i) => (
        <Panel key={i} spec={s} />
      ))}
    </div>
  );
}
